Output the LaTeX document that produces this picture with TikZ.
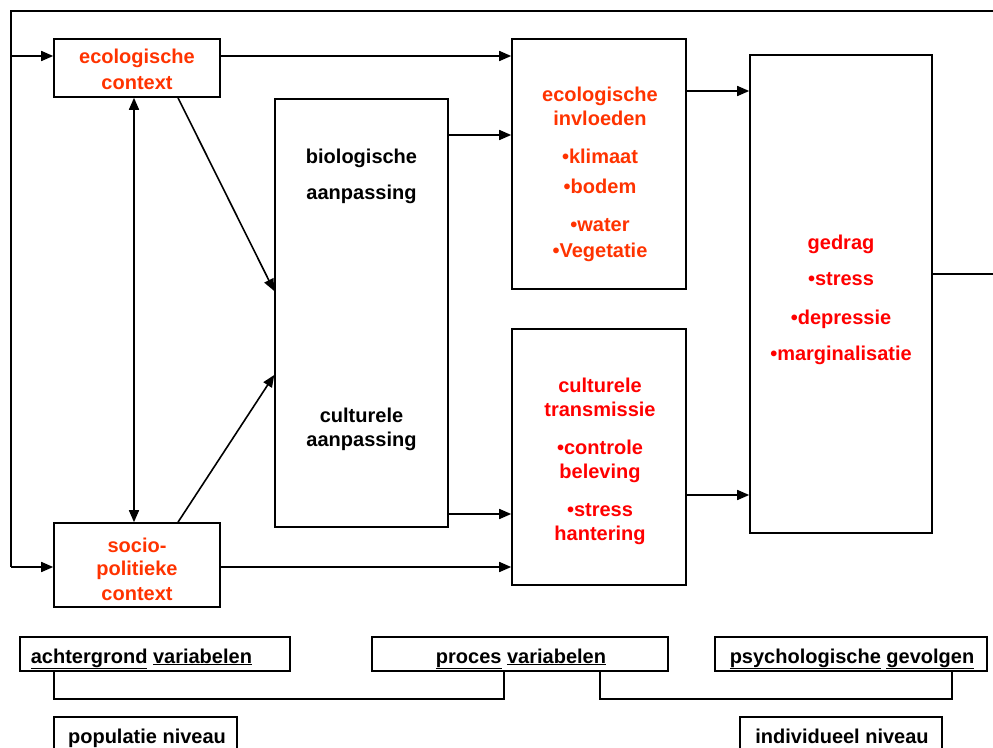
\documentclass[tikz,border=0pt]{standalone}
\usepackage{fontspec}
\setmainfont{Liberation Sans}
\usetikzlibrary{arrows.meta}
\definecolor{ecoc}{RGB}{255,51,0}
\definecolor{cultc}{RGB}{255,0,0}
\begin{document}
\begin{tikzpicture}[x=1pt,y=-1pt,line width=1.6pt,
  box/.style={draw,rectangle,inner sep=0pt},
  arr/.style={-{Triangle[length=12pt,width=10pt]}},
  darr/.style={{Triangle[length=12pt,width=10pt]}-{Triangle[length=12pt,width=10pt]}},
  txt/.style={anchor=base,inner sep=0pt,font=\fontsize{20}{24}\selectfont\bfseries},
  eco/.style={txt,text=ecoc},
  cult/.style={txt,text=cultc}]
\useasboundingbox (0,0) rectangle (993,747);
\clip (0,0) rectangle (993,747);

% boxes
\node[box,minimum width=166pt,minimum height=58pt] (ecoctx) at (137,68) {};
\node[box,minimum width=166pt,minimum height=84pt] (socio) at (137,565) {};
\node[box,minimum width=173pt,minimum height=428pt] (bio) at (361.5,313) {};
\node[box,minimum width=174pt,minimum height=250pt] (ecoinf) at (599,164) {};
\node[box,minimum width=174pt,minimum height=256pt] (cultr) at (599,457) {};
\node[box,minimum width=182pt,minimum height=478pt] (gedrag) at (841,294) {};

% texts
\node[eco] (t1) at (137,63) {ecologische};
\node[eco] (t2) at (137,89) {context};
\node[eco] (t3) at (137,552) {socio-};
\node[eco] (t4) at (137,575) {politieke};
\node[eco] (t5) at (137,600) {context};

\node[txt] (b1) at (361.5,163) {biologische};
\node[txt] (b2) at (361.5,199) {aanpassing};
\node[txt] (b3) at (361.5,422) {culturele};
\node[txt] (b4) at (361.5,446) {aanpassing};

\node[eco] (e1) at (600,101) {ecologische};
\node[eco] (e2) at (600,125) {invloeden};
\node[eco] (e3) at (600,163) {•klimaat};
\node[eco] (e4) at (600,193) {•bodem};
\node[eco] (e5) at (600,231) {•water};
\node[eco] (e6) at (600,257) {•Vegetatie};

\node[cult] (c1) at (600,392) {culturele};
\node[cult] (c2) at (600,416) {transmissie};
\node[cult] (c3) at (600,454) {•controle};
\node[cult] (c4) at (600,478) {beleving};
\node[cult] (c5) at (600,516) {•stress};
\node[cult] (c6) at (600,540) {hantering};

\node[cult] (g1) at (841,249) {gedrag};
\node[cult] (g2) at (841,285) {•stress};
\node[cult] (g3) at (841,324) {•depressie};
\node[cult] (g4) at (841,360) {•marginalisatie};

% feedback loop
\coordinate (rt) at (1000,274);
\coordinate (rtop) at (1000,11);
\coordinate (ltop) at (11,11);
\coordinate (lbot) at (11,567);
\draw (gedrag.east |- 0,274) -- (rt) -- (rtop) -- (ltop) -- (lbot);
\draw[arr] (11,56) -- (ecoctx.west |- 0,56);
\draw[arr] (lbot) -- (socio.west |- 0,567);

% connectors
\draw[darr] (ecoctx.south -| 134,0) -- (socio.north -| 134,0);
\draw[arr] (ecoctx.south -| 178,0) -- (bio.west |- 0,291);
\draw[arr] (socio.north -| 178,0) -- (bio.west |- 0,375);
\draw[arr] (ecoctx.east |- 0,56) -- (ecoinf.west |- 0,56);
\draw[arr] (bio.east |- 0,135) -- (ecoinf.west |- 0,135);
\draw[arr] (bio.east |- 0,514) -- (cultr.west |- 0,514);
\draw[arr] (socio.east |- 0,567) -- (cultr.west |- 0,567);
\draw[arr] (ecoinf.east |- 0,91) -- (gedrag.west |- 0,91);
\draw[arr] (cultr.east |- 0,495) -- (gedrag.west |- 0,495);

% bottom legend
\node[box,minimum width=270pt,minimum height=34pt] (achter) at (155,654) {};
\node[box,minimum width=296pt,minimum height=34pt] (proces) at (520,654) {};
\node[box,minimum width=272pt,minimum height=34pt] (psych) at (851,654) {};
\node[box,minimum width=183pt,minimum height=43pt] (popul) at (145.5,738.5) {};
\node[box,minimum width=202pt,minimum height=43pt] (indiv) at (841,738.5) {};

\node[txt,anchor=base west] (la) at (30,663) {\underline{achtergrond} \underline{variabelen}};
\node[txt] (lp) at (521,663) {\underline{proces} \underline{variabelen}};
\node[txt] (ls) at (852,663) {\underline{psychologische} \underline{gevolgen}};
\node[txt] (lpop) at (147,743) {populatie niveau};
\node[txt] (lind) at (842,743) {individueel niveau};

\draw (achter.south -| 54,0) -- (54,699) -- (504,699) -- (proces.south -| 504,0);
\draw (proces.south -| 600,0) -- (600,699) -- (952,699) -- (psych.south -| 952,0);
\end{tikzpicture}
\end{document}
